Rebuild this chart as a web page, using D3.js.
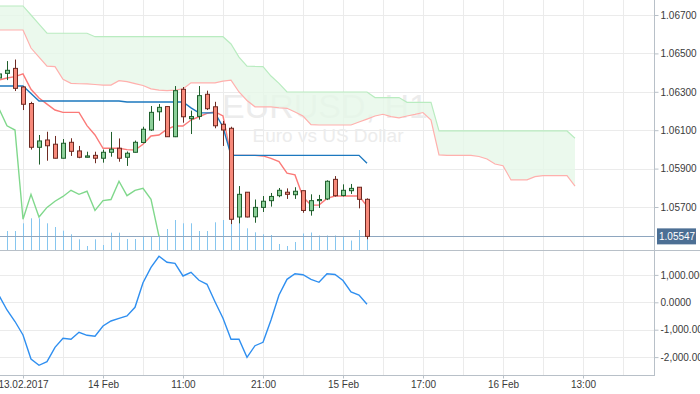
<!DOCTYPE html>
<html>
<head>
<meta charset="utf-8">
<script src="https://cdnjs.cloudflare.com/ajax/libs/d3/7.8.5/d3.min.js"></script>
<style>
  body { margin: 0; background: #fff; }
  svg { display: block; font-family: "Liberation Sans", Arial, sans-serif; }
</style>
</head>
<body>
<svg id="chart" width="700" height="394"></svg>
<script>
// EURUSD H1 candles (bar 0 is the partly hidden one at the left edge)
var opens  = [1.06372,1.06396,1.06422,1.06325,1.06239,1.06011,1.06049,1.06027,1.05954,1.06037,
              1.05992,1.05959,1.05969,1.05954,1.05985,1.06006,1.05959,1.05985,1.06036,1.06101,
              1.06196,1.06223,1.06066,1.06313,1.06160,1.06172,1.06287,1.06222,1.06131,1.06110,
              1.05648,1.05777,1.05649,1.05698,1.05733,1.05759,1.05777,1.05764,1.05785,1.05681,
              1.05733,1.05742,1.05844,1.05760,1.05785,1.05803,1.05740];
var highs  = [1.06403,1.06460,1.06468,1.06330,1.06248,1.06075,1.06092,1.06070,1.06054,1.06058,
              1.06018,1.05988,1.05988,1.05999,1.06091,1.06057,1.05989,1.06046,1.06118,1.06226,
              1.06236,1.06226,1.06330,1.06325,1.06202,1.06330,1.06306,1.06248,1.06148,1.06118,
              1.05809,1.05778,1.05739,1.05757,1.05773,1.05799,1.05797,1.05803,1.05786,1.05766,
              1.05763,1.05839,1.05861,1.05818,1.05820,1.05803,1.05745];
var lows   = [1.06361,1.06361,1.06304,1.06205,1.05999,1.05921,1.05941,1.05953,1.05953,1.05966,
              1.05954,1.05958,1.05928,1.05931,1.05962,1.05936,1.05914,1.05984,1.06032,1.06096,
              1.06149,1.06065,1.06064,1.06139,1.06080,1.06155,1.06205,1.06110,1.06018,1.05611,
              1.05615,1.05646,1.05618,1.05674,1.05702,1.05751,1.05742,1.05742,1.05670,1.05655,
              1.05695,1.05736,1.05754,1.05755,1.05768,1.05693,1.05532];
var closes = [1.06393,1.06412,1.06318,1.06235,1.06011,1.06044,1.06019,1.05954,1.06032,1.05990,
              1.05959,1.05966,1.05954,1.05985,1.06001,1.05954,1.05980,1.06037,1.06105,1.06193,
              1.06219,1.06066,1.06306,1.06170,1.06171,1.06280,1.06212,1.06123,1.06101,1.05636,
              1.05766,1.05648,1.05698,1.05730,1.05755,1.05787,1.05766,1.05782,1.05682,1.05733,
              1.05739,1.05834,1.05759,1.05787,1.05797,1.05740,1.05547];
var volumes = [2000,1900,1900,2670,3170,3170,2670,2300,1930,1570,
               1070,400,1070,500,1730,1730,1100,1100,1400,1330,
               1430,2100,3000,2670,2670,1900,1900,2770,3000,2900,
               2700,2170,1770,1570,1500,600,400,800,1650,1750,
               1450,1450,1450,1350,950,2000,1400];

// Ichimoku lines
var tenkan = [1.06361,1.06372,1.06379,1.06393,1.06313,1.06268,1.06236,1.06205,1.06193,1.06193,
              1.06193,1.06124,1.06075,1.06006,1.06006,1.06006,1.05999,1.05997,1.06027,1.06070,
              1.06075,1.06105,1.06122,1.06122,1.06153,1.06170,1.06188,1.06196,1.06174,1.05969,
              1.05969,1.05969,1.05969,1.05966,1.05953,1.05936,1.05876,1.05867,1.05752,1.05710,
              1.05710,1.05745,1.05757,1.05757,1.05757,1.05757,1.05705];
var kijun  = [1.06330,1.06330,1.06330,1.06330,1.06291,1.06252,1.06252,1.06252,1.06252,1.06252,
              1.06252,1.06252,1.06252,1.06252,1.06252,1.06252,1.06247,1.06247,1.06247,1.06247,
              1.06247,1.06247,1.06247,1.06247,1.06216,1.06190,1.06190,1.06190,1.06117,1.05969,
              1.05969,1.05969,1.05969,1.05969,1.05969,1.05969,1.05969,1.05969,1.05969,1.05969,
              1.05969,1.05969,1.05969,1.05969,1.05969,1.05969,1.05928];
// cloud edges, bars 0..72 (26 bars past the last candle)
var spanA  = [1.06622,1.06622,1.06622,1.06622,1.06528,1.06481,1.06434,1.06431,1.06365,1.06344,
              1.06342,1.06341,1.06338,1.06335,1.06335,1.06358,1.06353,1.06343,1.06333,1.06315,
              1.06309,1.06306,1.06309,1.06315,1.06347,1.06347,1.06347,1.06347,1.06356,1.06361,
              1.06299,1.06255,1.06222,1.06222,1.06221,1.06217,1.06214,1.06195,1.06174,1.06129,
              1.06127,1.06127,1.06127,1.06127,1.06127,1.06143,1.06158,1.06174,1.06183,1.06171,
              1.06164,1.06174,1.06182,1.06192,1.06153,1.05971,1.05969,1.05969,1.05969,1.05969,
              1.05963,1.05950,1.05924,1.05915,1.05841,1.05841,1.05841,1.05858,1.05863,1.05863,
              1.05863,1.05863,1.05809];
var spanB  = [1.06747,1.06747,1.06747,1.06747,1.06700,1.06653,1.06605,1.06605,1.06605,1.06605,
              1.06605,1.06605,1.06587,1.06587,1.06587,1.06587,1.06587,1.06587,1.06587,1.06587,
              1.06587,1.06587,1.06587,1.06587,1.06587,1.06587,1.06587,1.06587,1.06587,1.06549,
              1.06481,1.06434,1.06432,1.06431,1.06382,1.06344,1.06299,1.06299,1.06299,1.06299,
              1.06299,1.06299,1.06299,1.06299,1.06299,1.06299,1.06299,1.06270,1.06270,1.06270,
              1.06270,1.06245,1.06245,1.06245,1.06245,1.06096,1.06096,1.06096,1.06096,1.06096,
              1.06096,1.06096,1.06096,1.06096,1.06096,1.06096,1.06096,1.06096,1.06096,1.06096,
              1.06096,1.06096,1.06058];

// oscillator in the lower window
var oscValues = [248,-281,-701,-1193,-2069,-2299,-2168,-1642,-1314,-1350,
                 -1095,-1204,-1241,-865,-682,-584,-500,-182,715,1277,
                 1679,1460,1423,960,1095,803,657,22,-584,-1350,
                 -1350,-2007,-1584,-1460,-646,266,839,1044,1007,839,
                 730,1044,1015,796,376,266,-73];

var priceTicks = [1.05700,1.05900,1.06100,1.06300,1.06500,1.06700];
var oscTicks = [-2000,-1000,0,1000];
var timeTickBars = [3,13,23,33,43,53,63,73];
var timeTickLabels = ["13.02.2017","14 Feb","11:00","21:00","15 Feb","17:00","16 Feb","13:00"];
var lastPrice = 1.05547;

var W = 654, upperH = 250, lowerTop = 250, lowerBottom = 375;
var svg = d3.select("#chart");

// scales
var x = d3.scaleLinear().domain([0, 82]).range([-1, 655]);
var y = d3.scaleLinear().domain([1.05700, 1.06700]).range([207, 15]);
var yVol = d3.scaleLinear().domain([0, 10000]).range([upperH, upperH - 100]);
var yOsc = d3.scaleLinear().domain([-2000, 1000]).range([357.1, 274.9]);

var defs = svg.append("defs");
defs.append("clipPath").attr("id", "clipTop")
  .append("rect").attr("x", 0).attr("y", 0).attr("width", W).attr("height", upperH);
defs.append("clipPath").attr("id", "clipBot")
  .append("rect").attr("x", 0).attr("y", lowerTop).attr("width", W).attr("height", lowerBottom - lowerTop);

var gridColor = "#ebebeb";

// vertical grid, both windows
var gridBars = d3.range(3, 80, 5);
svg.append("g").selectAll("line").data(gridBars).enter().append("line")
  .attr("x1", function(d) { return Math.round(x(d)) + 0.5; })
  .attr("x2", function(d) { return Math.round(x(d)) + 0.5; })
  .attr("y1", 0).attr("y2", lowerBottom)
  .attr("stroke", gridColor);

// horizontal grid
svg.append("g").selectAll("line").data(priceTicks).enter().append("line")
  .attr("x1", 0).attr("x2", W)
  .attr("y1", function(d) { return Math.round(y(d)) + 0.5; })
  .attr("y2", function(d) { return Math.round(y(d)) + 0.5; })
  .attr("stroke", gridColor);
svg.append("g").selectAll("line").data(oscTicks).enter().append("line")
  .attr("x1", 0).attr("x2", W)
  .attr("y1", function(d) { return Math.round(yOsc(d)) + 0.5; })
  .attr("y2", function(d) { return Math.round(yOsc(d)) + 0.5; })
  .attr("stroke", gridColor);

// watermark
svg.append("text").attr("x", 325).attr("y", 118).attr("text-anchor", "middle")
  .style("font-size", "34px").attr("fill", "#ececec").text("EURUSD, H1");
svg.append("text").attr("x", 328).attr("y", 141.5).attr("text-anchor", "middle")
  .style("font-size", "19px").attr("fill", "#ececec").text("Euro vs US Dollar");

var upper = svg.append("g").attr("clip-path", "url(#clipTop)");

// cloud
var cloudData = spanA.map(function(a, i) { return { i: i, a: a, b: spanB[i] }; });
upper.append("path").datum(cloudData)
  .attr("d", d3.area().x(function(d) { return x(d.i); })
    .y0(function(d) { return y(d.a); }).y1(function(d) { return y(d.b); }))
  .attr("fill", "#e6f8e8").attr("fill-opacity", 0.8);

function lineOf(arr, offset) {
  return d3.line()
    .x(function(d, i) { return x(i + (offset || 0)); })
    .y(function(d) { return y(d); })(arr);
}
upper.append("path").attr("d", lineOf(spanB)).attr("fill", "none").attr("stroke", "#b9ecc0").attr("stroke-width", 1.2);
upper.append("path").attr("d", lineOf(spanA)).attr("fill", "none").attr("stroke", "#ffb0ad").attr("stroke-width", 1.2);

// volumes
upper.append("g").selectAll("line").data(volumes).enter().append("line")
  .attr("x1", function(d, i) { return Math.round(x(i)) + 0.5; })
  .attr("x2", function(d, i) { return Math.round(x(i)) + 0.5; })
  .attr("y1", upperH).attr("y2", function(d) { return yVol(d); })
  .attr("stroke", "#86c6ef").attr("stroke-width", 1);

// last price line
upper.append("line").attr("x1", 0).attr("x2", W)
  .attr("y1", Math.round(y(lastPrice)) + 0.5).attr("y2", Math.round(y(lastPrice)) + 0.5)
  .attr("stroke", "#8ea6bf").attr("stroke-width", 1);

// chikou span: close shifted 26 bars back
upper.append("path").attr("d", lineOf(closes.slice(26), 0))
  .attr("fill", "none").attr("stroke", "#80d88c").attr("stroke-width", 1.4);
upper.append("path").attr("d", lineOf(tenkan))
  .attr("fill", "none").attr("stroke", "#fb7a78").attr("stroke-width", 1.4);
upper.append("path").attr("d", lineOf(kijun))
  .attr("fill", "none").attr("stroke", "#1c78bf").attr("stroke-width", 1.4);

// candles
var candles = upper.append("g").selectAll("g").data(opens).enter().append("g");
candles.append("line")
  .attr("x1", function(d, i) { return Math.round(x(i)) + 0.5; })
  .attr("x2", function(d, i) { return Math.round(x(i)) + 0.5; })
  .attr("y1", function(d, i) { return y(highs[i]); })
  .attr("y2", function(d, i) { return y(lows[i]); })
  .attr("stroke", function(d, i) { return closes[i] >= d ? "#1f5f2c" : "#6e2a22"; })
  .attr("stroke-width", 1);
candles.append("rect")
  .attr("x", function(d, i) { return Math.round(x(i)) - 1.5; })
  .attr("width", 4)
  .attr("y", function(d, i) { return y(Math.max(d, closes[i])); })
  .attr("height", function(d, i) { return Math.max(1, Math.abs(y(d) - y(closes[i]))); })
  .attr("fill", function(d, i) { return closes[i] >= d ? "#8ccf99" : "#f7897a"; })
  .attr("stroke", function(d, i) { return closes[i] >= d ? "#1f5f2c" : "#6e2a22"; })
  .attr("stroke-width", 1);

// lower window oscillator
svg.append("g").attr("clip-path", "url(#clipBot)").append("path")
  .datum(oscValues)
  .attr("d", d3.line().x(function(d, i) { return x(i); }).y(function(d) { return yOsc(d); }))
  .attr("fill", "none").attr("stroke", "#2f8ff0").attr("stroke-width", 1.4);

// frame lines
var frameColor = "#b8c0c8";
svg.append("line").attr("x1", 0).attr("x2", 700).attr("y1", upperH + 0.5).attr("y2", upperH + 0.5)
  .attr("stroke", frameColor);
svg.append("line").attr("x1", W + 0.5).attr("x2", W + 0.5).attr("y1", 0).attr("y2", lowerBottom + 0.5)
  .attr("stroke", frameColor);
svg.append("line").attr("x1", 0).attr("x2", W + 1).attr("y1", lowerBottom + 0.5).attr("y2", lowerBottom + 0.5)
  .attr("stroke", frameColor);

// right axes
var axisText = "#3a3a3a";
var pAxis = svg.append("g").attr("transform", "translate(" + (W + 0.5) + ",0)")
  .call(d3.axisRight(y).tickValues(priceTicks).tickFormat(d3.format(".5f")).tickSize(4).tickPadding(2));
var oAxis = svg.append("g").attr("transform", "translate(" + (W + 0.5) + ",0)")
  .call(d3.axisRight(yOsc).tickValues(oscTicks).tickFormat(d3.format(",.4f")).tickSize(4).tickPadding(2));
var tAxis = svg.append("g").attr("transform", "translate(0," + (lowerBottom + 0.5) + ")")
  .call(d3.axisBottom(x).tickValues(timeTickBars)
    .tickFormat(function(d, i) { return timeTickLabels[i]; }).tickSize(3).tickPadding(2));
[pAxis, oAxis, tAxis].forEach(function(g) {
  g.select(".domain").remove();
  g.selectAll(".tick line").attr("stroke", frameColor);
  g.selectAll(".tick text").attr("fill", axisText)
    .style("font-family", "'Liberation Sans', Arial, sans-serif").style("font-size", "10px");
});
oAxis.selectAll(".tick text").text(function(d) { return d3.format(",.4f")(d).replace("−", "-"); });

// last price label
var ly = y(lastPrice);
svg.append("rect").attr("x", 657).attr("y", ly - 8).attr("width", 39).attr("height", 16)
  .attr("fill", "#4c6f94");
svg.append("text").attr("x", 659).attr("y", ly + 3.5).attr("fill", "#fff")
  .style("font-size", "10px").text(d3.format(".5f")(lastPrice));
</script>
</body>
</html>
